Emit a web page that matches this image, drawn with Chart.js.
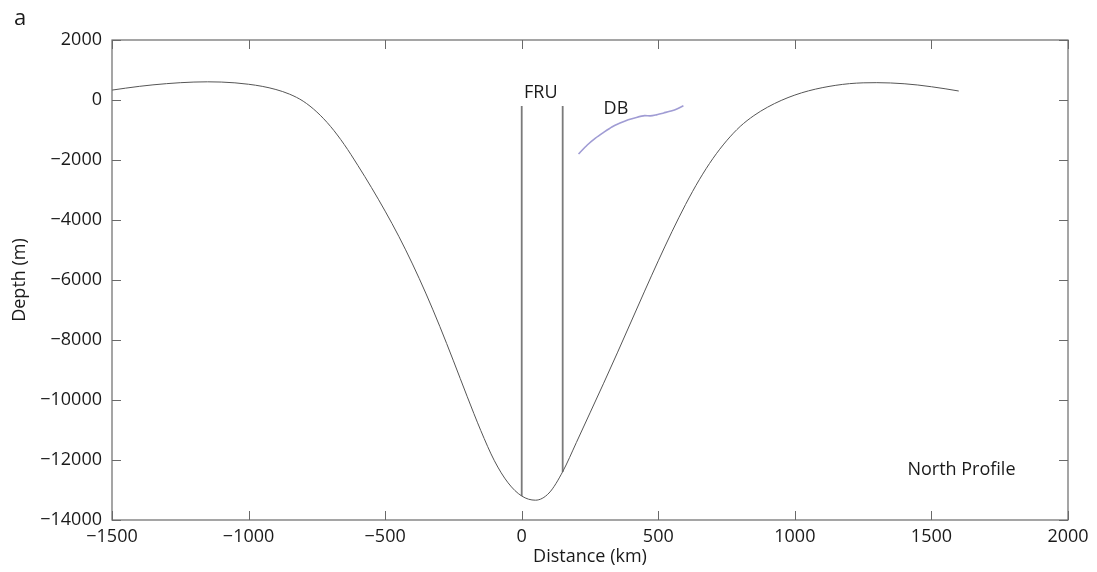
<!DOCTYPE html>
<html>
<head>
<meta charset="utf-8">
<script src="https://cdn.jsdelivr.net/npm/chart.js@4/dist/chart.umd.min.js"></script>
<style>
  html, body { margin: 0; padding: 0; background: #fff; }
  #wrap { width: 1097px; height: 572px; position: relative; }
</style>
</head>
<body>
<div id="wrap"><canvas id="profileChart"></canvas></div>
<script>
// North profile (distance in km, depth in m)
var distanceKm = [-1500, -1450, -1400, -1350, -1300, -1250, -1200, -1150, -1100, -1050, -1000, -950, -900, -850, -800, -750, -700, -650, -600, -550, -500, -450, -400, -350, -300, -250, -200, -150, -100, -50, 0, 50, 100, 150, 200, 250, 300, 350, 400, 450, 500, 550, 600, 650, 700, 750, 800, 850, 900, 950, 1000, 1050, 1100, 1150, 1200, 1250, 1300, 1350, 1400, 1450, 1500, 1550, 1600];
var depthM = [330, 395, 455, 505, 545, 577, 598, 606, 598, 572, 525, 455, 350, 195, -40, -400, -880, -1480, -2180, -2920, -3705, -4545, -5465, -6465, -7545, -8695, -9875, -11015, -12025, -12760, -13200, -13340, -13100, -12390, -11420, -10430, -9440, -8430, -7400, -6370, -5360, -4390, -3480, -2660, -1950, -1360, -880, -520, -240, -15, 165, 305, 410, 490, 545, 572, 578, 568, 542, 500, 442, 375, 300];

// DB segment
var dbDistKm = [208, 240, 270, 300, 330, 360, 390, 420, 450, 470, 490, 520, 550, 570, 592];
var dbDepthM = [-1800, -1500, -1270, -1080, -900, -770, -660, -580, -520, -530, -500, -430, -360, -290, -190];

// FRU boundaries
var fruDistKm = [0, 150];
var fruTopM = [-200, -200];
var fruBottomM = [-13200, -12400];

var xTicks = [-1500, -1000, -500, 0, 500, 1000, 1500, 2000];
var yTicks = [2000, 0, -2000, -4000, -6000, -8000, -10000, -12000, -14000];

var labelNotes = [
    {text: "FRU", x: 70, y: 250, align: "center"},
    {text: "DB", x: 345, y: -280, align: "center"},
    {text: "North Profile", x: 1412, y: -12330, align: "left"}
];

var fontFamily = "'Open Sans', 'DejaVu Sans', sans-serif";

function fmt(v) {
    return v < 0 ? "\u2212" + Math.abs(v) : String(v);
}

var profilePoints = distanceKm.map(function (d, i) { return {x: d, y: depthM[i]}; });
var dbPoints = dbDistKm.map(function (d, i) { return {x: d, y: dbDepthM[i]}; });

var datasets = [{
    label: "North Profile",
    data: profilePoints,
    borderColor: "#555555",
    borderWidth: 1,
    pointRadius: 0,
    cubicInterpolationMode: "monotone",
    showLine: true
}, {
    label: "DB",
    data: dbPoints,
    borderColor: "#a09cd4",
    borderWidth: 1.6,
    pointRadius: 0,
    tension: 0.2,
    showLine: true
}];

fruDistKm.forEach(function (d, i) {
    datasets.push({
        label: "FRU " + i,
        data: [{x: d, y: fruTopM[i]}, {x: d, y: fruBottomM[i]}],
        borderColor: "#7a7a7a",
        borderWidth: 1.8,
        pointRadius: 0,
        showLine: true
    });
});

var frameTicks = {
    id: "frameTicks",
    afterDraw: function (chart) {
        var c = chart.ctx, a = chart.chartArea;
        var sx = chart.scales.x, sy = chart.scales.y;
        var len = 9;
        c.save();
        c.strokeStyle = "#6a6a6a";
        c.lineWidth = 1.2;
        c.strokeRect(a.left, a.top, a.right - a.left, a.bottom - a.top);
        c.lineWidth = 1;
        xTicks.forEach(function (v) {
            var px = Math.round(sx.getPixelForValue(v)) + 0.5;
            c.beginPath();
            c.moveTo(px, a.bottom); c.lineTo(px, a.bottom - len);
            c.moveTo(px, a.top); c.lineTo(px, a.top + len);
            c.stroke();
        });
        yTicks.forEach(function (v) {
            var py = Math.round(sy.getPixelForValue(v)) + 0.5;
            c.beginPath();
            c.moveTo(a.left, py); c.lineTo(a.left + len, py);
            c.moveTo(a.right, py); c.lineTo(a.right - len, py);
            c.stroke();
        });
        c.fillStyle = "#1a1a1a";
        c.font = "18px " + fontFamily;
        c.textBaseline = "middle";
        labelNotes.forEach(function (n) {
            c.textAlign = n.align;
            c.fillText(n.text, sx.getPixelForValue(n.x), sy.getPixelForValue(n.y));
        });
        c.font = "22px " + fontFamily;
        c.textAlign = "left";
        c.fillText("a", 14, 19);
        c.restore();
    }
};

var ctx = document.getElementById("profileChart").getContext("2d");
new Chart(ctx, {
    type: "scatter",
    data: {datasets: datasets},
    options: {
        responsive: true,
        maintainAspectRatio: false,
        animation: false,
        layout: {padding: {left: 0, top: 40, right: 29, bottom: 0}},
        plugins: {legend: {display: false}, tooltip: {enabled: false}},
        scales: {
            x: {
                type: "linear",
                min: -1500,
                max: 2000,
                afterBuildTicks: function (s) { s.ticks = xTicks.map(function (v) { return {value: v}; }); },
                afterFit: function (s) { s.height = 52; },
                grid: {display: false, drawTicks: false},
                border: {display: false},
                ticks: {
                    padding: 6,
                    color: "#1a1a1a",
                    font: {family: fontFamily, size: 18},
                    maxRotation: 0,
                    callback: function (v) { return fmt(v); }
                },
                title: {
                    display: true,
                    text: "Distance (km)",
                    color: "#1a1a1a",
                    font: {family: fontFamily, size: 18},
                    padding: {top: 4, bottom: 4}
                }
            },
            y: {
                type: "linear",
                min: -14000,
                max: 2000,
                afterBuildTicks: function (s) { s.ticks = yTicks.map(function (v) { return {value: v}; }); },
                afterFit: function (s) { s.width = 112; },
                grid: {display: false, drawTicks: false},
                border: {display: false},
                ticks: {
                    padding: 10,
                    color: "#1a1a1a",
                    font: {family: fontFamily, size: 18},
                    callback: function (v) { return fmt(v); }
                },
                title: {
                    display: true,
                    text: "Depth (m)",
                    color: "#1a1a1a",
                    font: {family: fontFamily, size: 18},
                    padding: {top: 9, bottom: 4}
                }
            }
        }
    },
    plugins: [frameTicks]
});
</script>
</body>
</html>
